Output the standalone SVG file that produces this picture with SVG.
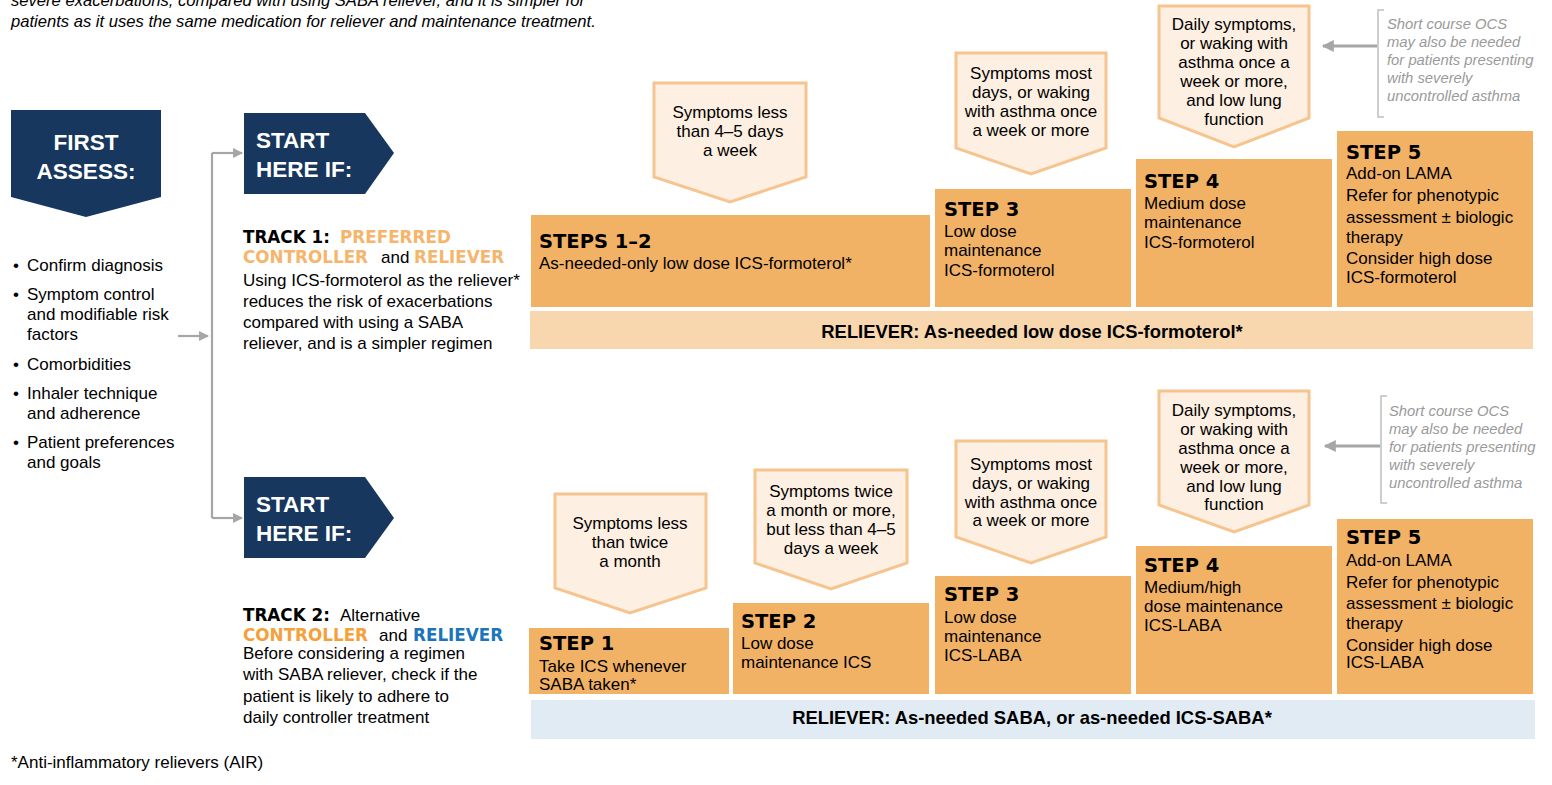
<svg xmlns="http://www.w3.org/2000/svg" width="1552" height="785" viewBox="0 0 1552 785">
<style>
text{font-family:"Liberation Sans",Arial,sans-serif;font-size:17px;fill:#000}
.it{font-style:italic;font-size:16.6px}
.c{text-anchor:middle}
.hd{font-family:"DejaVu Sans",Verdana,sans-serif;font-weight:bold;font-size:19.5px}
.tk{font-family:"DejaVu Sans",Verdana,sans-serif;font-weight:bold;font-size:16.8px}
.nv{font-weight:bold;font-size:22.5px;fill:#fff}
.rl{font-weight:bold;font-size:18.4px}
.ocs{font-style:italic;font-size:14.8px;fill:#9a9a9a}
.navy{fill:#17375E}
.step{fill:#F2B266}
.call{fill:#FDEFE1;stroke:#F6C48E;stroke-width:3}
.conn{stroke:#A6A6A6;stroke-width:2.2;fill:none}
.ocsa{stroke:#A6A6A6;stroke-width:3;fill:none}
.brk{stroke:#BFBFBF;stroke-width:1.5;fill:none}
.o1{fill:#F5B56C}
.o2{fill:#F4A13A}
.bl{fill:#1B75BC}
</style>
<defs>
<marker id="ah" viewBox="0 0 10 10" refX="9" refY="5" markerWidth="5" markerHeight="4.5" markerUnits="strokeWidth" orient="auto">
<path d="M0,0 L10,5 L0,10 z" fill="#A6A6A6"/>
</marker>
<marker id="ah2" viewBox="0 0 10 10" refX="9" refY="5" markerWidth="4.5" markerHeight="4" markerUnits="strokeWidth" orient="auto">
<path d="M0,0 L10,5 L0,10 z" fill="#A6A6A6"/>
</marker>
</defs>

<g id="intro">
<text class="it" x="11" y="6">severe exacerbations, compared with using SABA reliever, and it is simpler for</text>
<text class="it" x="11" y="27">patients as it uses the same medication for reliever and maintenance treatment.</text>
</g>

<g id="connectors">
<path class="conn" d="M212,153 V518"/>
<path class="conn" d="M212,153 H242" marker-end="url(#ah)"/>
<path class="conn" d="M212,518 H242" marker-end="url(#ah)"/>
<path class="conn" d="M178,336 H208" marker-end="url(#ah)"/>
<path class="ocsa" d="M1377,46 H1323" marker-end="url(#ah2)"/>
<path class="ocsa" d="M1380,446 H1325" marker-end="url(#ah2)"/>
</g>

<g id="first-assess">
<polygon class="navy" points="11,110 161,110 161,197 86,217 11,197"/>
<text class="nv c" x="86" y="150">FIRST</text>
<text class="nv c" x="86" y="179">ASSESS:</text>
</g>

<g id="assess-list">
<text x="13" y="271">•</text><text x="27" y="271">Confirm diagnosis</text>
<text x="13" y="300">•</text><text x="27" y="300">Symptom control</text>
<text x="27" y="320">and modifiable risk</text>
<text x="27" y="340">factors</text>
<text x="13" y="370">•</text><text x="27" y="370">Comorbidities</text>
<text x="13" y="399">•</text><text x="27" y="399">Inhaler technique</text>
<text x="27" y="419">and adherence</text>
<text x="13" y="448">•</text><text x="27" y="448">Patient preferences</text>
<text x="27" y="468">and goals</text>
</g>

<g id="start-1">
<polygon class="navy" points="244,113 365,113 394,153 365,194 244,194"/>
<text class="nv" x="256" y="148">START</text>
<text class="nv" x="256" y="177">HERE IF:</text>
</g>

<g id="track-1">
<text x="243" y="243"><tspan class="tk">TRACK 1:</tspan><tspan class="tk o1" x="340">PREFERRED</tspan></text>
<text x="243" y="263"><tspan class="tk o1">CONTROLLER</tspan><tspan x="381">and</tspan><tspan class="tk o1" x="414">RELIEVER</tspan></text>
<text x="243" y="286">Using ICS-formoterol as the reliever*</text>
<text x="243" y="307">reduces the risk of exacerbations</text>
<text x="243" y="328">compared with using a SABA</text>
<text x="243" y="349">reliever, and is a simpler regimen</text>
</g>

<g id="start-2">
<polygon class="navy" points="244,477 365,477 394,518 365,558 244,558"/>
<text class="nv" x="256" y="512">START</text>
<text class="nv" x="256" y="541">HERE IF:</text>
</g>

<g id="track-2">
<text x="243" y="621"><tspan class="tk">TRACK 2:</tspan><tspan x="340">Alternative</tspan></text>
<text x="243" y="641"><tspan class="tk o2">CONTROLLER</tspan><tspan x="379">and</tspan><tspan class="tk bl" x="413">RELIEVER</tspan></text>
<text x="243" y="659">Before considering a regimen</text>
<text x="243" y="680">with SABA reliever, check if the</text>
<text x="243" y="702">patient is likely to adhere to</text>
<text x="243" y="723">daily controller treatment</text>
</g>

<g id="footnote">
<text x="11" y="768">*Anti-inflammatory relievers (AIR)</text>
</g>

<!-- Track 1 -->
<g id="t1-callout-1">
<polygon class="call" points="654,83 806,83 806,177 730,202 654,177"/>
<text class="c" x="730" y="118">Symptoms less</text>
<text class="c" x="730" y="137">than 4–5 days</text>
<text class="c" x="730" y="156">a week</text>
</g>
<g id="t1-callout-2">
<polygon class="call" points="956,53 1106,53 1106,148 1031,174 956,148"/>
<text class="c" x="1031" y="79">Symptoms most</text>
<text class="c" x="1031" y="98">days, or waking</text>
<text class="c" x="1031" y="117">with asthma once</text>
<text class="c" x="1031" y="136">a week or more</text>
</g>
<g id="t1-callout-3">
<polygon class="call" points="1159,6 1309,6 1309,118 1234,147 1159,118"/>
<text class="c" x="1234" y="30">Daily symptoms,</text>
<text class="c" x="1234" y="49">or waking with</text>
<text class="c" x="1234" y="68">asthma once a</text>
<text class="c" x="1234" y="87">week or more,</text>
<text class="c" x="1234" y="106">and low lung</text>
<text class="c" x="1234" y="125">function</text>
</g>
<g id="t1-ocs">
<path class="brk" d="M1384,10 H1378 V117 H1384"/>
<text class="ocs" x="1387" y="29">Short course OCS</text>
<text class="ocs" x="1387" y="47">may also be needed</text>
<text class="ocs" x="1387" y="65">for patients presenting</text>
<text class="ocs" x="1387" y="83">with severely</text>
<text class="ocs" x="1387" y="101">uncontrolled asthma</text>
</g>
<g id="t1-steps-1-2">
<rect class="step" x="531" y="215" width="399" height="92"/>
<text class="hd" x="539" y="248">STEPS 1–2</text>
<text x="539" y="269">As-needed-only low dose ICS-formoterol*</text>
</g>
<g id="t1-step-3">
<rect class="step" x="935" y="189" width="196" height="118"/>
<text class="hd" x="944" y="216">STEP 3</text>
<text x="944" y="237">Low dose</text>
<text x="944" y="256">maintenance</text>
<text x="944" y="276">ICS-formoterol</text>
</g>
<g id="t1-step-4">
<rect class="step" x="1136" y="159" width="196" height="148"/>
<text class="hd" x="1144" y="188">STEP 4</text>
<text x="1144" y="209">Medium dose</text>
<text x="1144" y="228">maintenance</text>
<text x="1144" y="248">ICS-formoterol</text>
</g>
<g id="t1-step-5">
<rect class="step" x="1337" y="131" width="196" height="176"/>
<text class="hd" x="1346" y="159">STEP 5</text>
<text x="1346" y="179">Add-on LAMA</text>
<text x="1346" y="201">Refer for phenotypic</text>
<text x="1346" y="223">assessment ± biologic</text>
<text x="1346" y="243">therapy</text>
<text x="1346" y="264">Consider high dose</text>
<text x="1346" y="283">ICS-formoterol</text>
</g>
<g id="t1-reliever">
<rect x="530" y="311" width="1003" height="38" fill="#F8D7AE"/>
<text class="rl c" x="1032" y="338">RELIEVER: As-needed low dose ICS-formoterol*</text>
</g>

<!-- Track 2 -->
<g id="t2-callout-1">
<polygon class="call" points="555,494 706,494 706,588 630,613 555,588"/>
<text class="c" x="630" y="529">Symptoms less</text>
<text class="c" x="630" y="548">than twice</text>
<text class="c" x="630" y="567">a month</text>
</g>
<g id="t2-callout-2">
<polygon class="call" points="755,470 907,470 907,563 831,589 755,563"/>
<text class="c" x="831" y="497">Symptoms twice</text>
<text class="c" x="831" y="516">a month or more,</text>
<text class="c" x="831" y="535">but less than 4–5</text>
<text class="c" x="831" y="554">days a week</text>
</g>
<g id="t2-callout-3">
<polygon class="call" points="956,441 1106,441 1106,537 1031,563 956,537"/>
<text class="c" x="1031" y="470">Symptoms most</text>
<text class="c" x="1031" y="489">days, or waking</text>
<text class="c" x="1031" y="508">with asthma once</text>
<text class="c" x="1031" y="526">a week or more</text>
</g>
<g id="t2-callout-4">
<polygon class="call" points="1159,391 1309,391 1309,505 1234,532 1159,505"/>
<text class="c" x="1234" y="416">Daily symptoms,</text>
<text class="c" x="1234" y="435">or waking with</text>
<text class="c" x="1234" y="454">asthma once a</text>
<text class="c" x="1234" y="473">week or more,</text>
<text class="c" x="1234" y="492">and low lung</text>
<text class="c" x="1234" y="510">function</text>
</g>
<g id="t2-ocs">
<path class="brk" d="M1387,396 H1381 V503 H1387"/>
<text class="ocs" x="1389" y="416">Short course OCS</text>
<text class="ocs" x="1389" y="434">may also be needed</text>
<text class="ocs" x="1389" y="452">for patients presenting</text>
<text class="ocs" x="1389" y="470">with severely</text>
<text class="ocs" x="1389" y="488">uncontrolled asthma</text>
</g>
<g id="t2-step-1">
<rect class="step" x="529" y="628" width="200" height="66"/>
<text class="hd" x="539" y="650">STEP 1</text>
<text x="539" y="672">Take ICS whenever</text>
<text x="539" y="690">SABA taken*</text>
</g>
<g id="t2-step-2">
<rect class="step" x="733" y="603" width="196" height="91"/>
<text class="hd" x="741" y="628">STEP 2</text>
<text x="741" y="649">Low dose</text>
<text x="741" y="668">maintenance ICS</text>
</g>
<g id="t2-step-3">
<rect class="step" x="935" y="576" width="196" height="118"/>
<text class="hd" x="944" y="601">STEP 3</text>
<text x="944" y="623">Low dose</text>
<text x="944" y="642">maintenance</text>
<text x="944" y="661">ICS-LABA</text>
</g>
<g id="t2-step-4">
<rect class="step" x="1136" y="546" width="196" height="148"/>
<text class="hd" x="1144" y="572">STEP 4</text>
<text x="1144" y="593">Medium/high</text>
<text x="1144" y="612">dose maintenance</text>
<text x="1144" y="631">ICS-LABA</text>
</g>
<g id="t2-step-5">
<rect class="step" x="1337" y="519" width="196" height="175"/>
<text class="hd" x="1346" y="544">STEP 5</text>
<text x="1346" y="566">Add-on LAMA</text>
<text x="1346" y="588">Refer for phenotypic</text>
<text x="1346" y="609">assessment ± biologic</text>
<text x="1346" y="629">therapy</text>
<text x="1346" y="651">Consider high dose</text>
<text x="1346" y="668">ICS-LABA</text>
</g>
<g id="t2-reliever">
<rect x="531" y="700" width="1004" height="39" fill="#E1EBF4"/>
<text class="rl c" x="1032" y="724">RELIEVER: As-needed SABA, or as-needed ICS-SABA*</text>
</g>
</svg>
